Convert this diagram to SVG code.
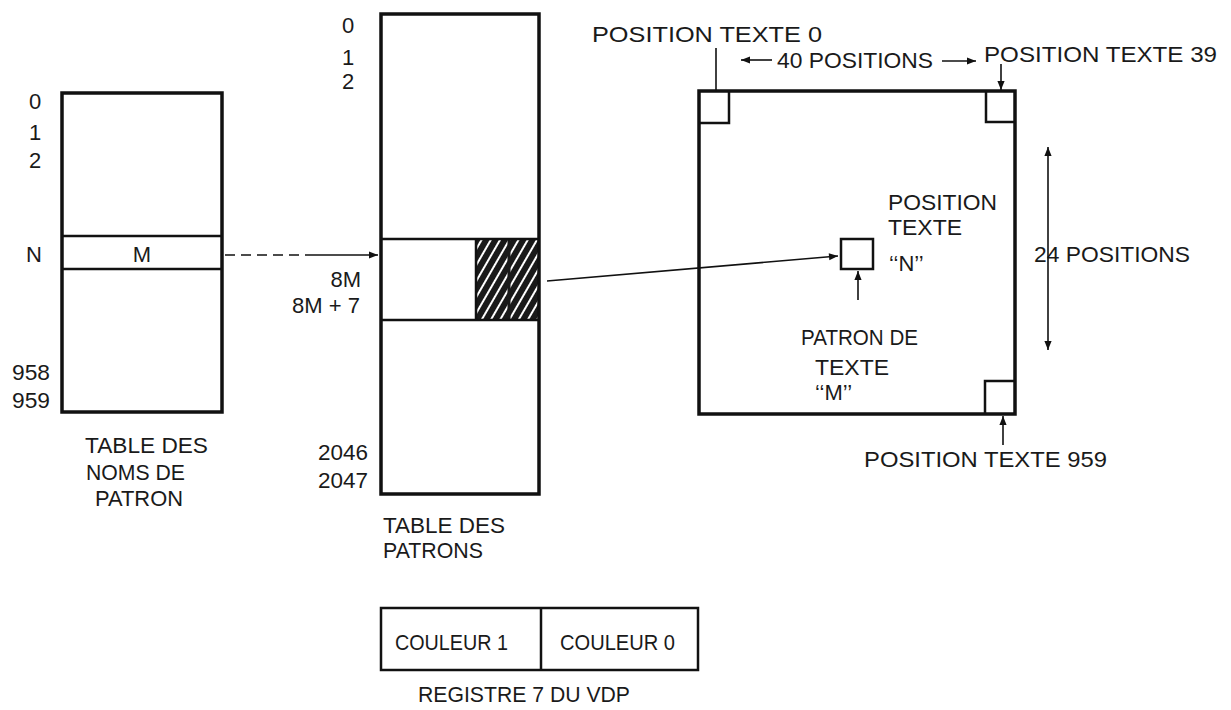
<svg xmlns="http://www.w3.org/2000/svg" width="1231" height="710" viewBox="0 0 1231 710">
<style>
.t{font-family:"Liberation Sans",Arial,sans-serif;font-size:22px;fill:#1a1a1a}
.box{fill:none;stroke:#111;stroke-width:3.5}
.thin{fill:none;stroke:#111;stroke-width:2.5}
.ln{fill:none;stroke:#111;stroke-width:1.6}
.e{text-anchor:end}
.m{text-anchor:middle}
</style>
<defs>
<pattern id="hatch" patternUnits="userSpaceOnUse" width="8" height="8" patternTransform="rotate(30)">
<rect width="8" height="8" fill="#1a1a1a"/>
<line x1="1" y1="0" x2="1" y2="8" stroke="#fff" stroke-width="2"/>
</pattern>
<marker id="ah" viewBox="0 0 10 10" refX="10" refY="5" markerWidth="14" markerHeight="9" markerUnits="userSpaceOnUse" orient="auto-start-reverse">
<path d="M0,1 L10,5 L0,9 z" fill="#111"/>
</marker>
</defs>
<rect width="1231" height="710" fill="#fff"/>

<g id="table-noms">
<rect class="box" x="62" y="93" width="160" height="319"/>
<line class="thin" x1="62" y1="236" x2="222" y2="236"/>
<line class="thin" x1="62" y1="269" x2="222" y2="269"/>
<text class="t m" x="142" y="262">M</text>
<text class="t" x="29" y="109">0</text>
<text class="t" x="29" y="140">1</text>
<text class="t" x="29" y="168">2</text>
<text class="t" x="26" y="262">N</text>
<text class="t" x="12" y="380" textLength="38" lengthAdjust="spacingAndGlyphs">958</text>
<text class="t" x="12" y="408" textLength="38" lengthAdjust="spacingAndGlyphs">959</text>
<text class="t" x="85" y="453" textLength="123" lengthAdjust="spacingAndGlyphs">TABLE DES</text>
<text class="t" x="86" y="480" textLength="99" lengthAdjust="spacingAndGlyphs">NOMS DE</text>
<text class="t" x="95" y="506" textLength="88" lengthAdjust="spacingAndGlyphs">PATRON</text>
</g>

<g id="table-patrons">
<rect x="476" y="239" width="63" height="81" fill="url(#hatch)"/>
<line x1="509" y1="239" x2="509" y2="320" stroke="#1a1a1a" stroke-width="3"/>
<rect class="box" x="381" y="14" width="158" height="480"/>
<line class="thin" x1="381" y1="239" x2="539" y2="239"/>
<line class="thin" x1="381" y1="320" x2="539" y2="320"/>
<line class="thin" x1="476" y1="239" x2="476" y2="320"/>
<text class="t" x="342" y="33">0</text>
<text class="t" x="342" y="65">1</text>
<text class="t" x="342" y="89">2</text>
<text class="t e" x="361" y="287">8M</text>
<text class="t" x="292" y="313" textLength="68" lengthAdjust="spacingAndGlyphs">8M + 7</text>
<text class="t" x="318" y="460" textLength="50" lengthAdjust="spacingAndGlyphs">2046</text>
<text class="t" x="318" y="488" textLength="50" lengthAdjust="spacingAndGlyphs">2047</text>
<text class="t" x="383" y="533" textLength="122" lengthAdjust="spacingAndGlyphs">TABLE DES</text>
<text class="t" x="383" y="558" textLength="100" lengthAdjust="spacingAndGlyphs">PATRONS</text>
</g>

<g id="ecran">
<rect class="box" x="699" y="91" width="316" height="323"/>
<path class="thin" d="M699,123 H729 V91"/>
<path class="thin" d="M986,91 V122 H1015"/>
<path class="thin" d="M985,414 V381 H1015"/>
<rect class="thin" x="841" y="239" width="32" height="30"/>
<text class="t" x="592" y="42" textLength="230" lengthAdjust="spacingAndGlyphs">POSITION TEXTE 0</text>
<text class="t" x="777" y="68" textLength="156" lengthAdjust="spacingAndGlyphs">40 POSITIONS</text>
<text class="t" x="984" y="62" textLength="233" lengthAdjust="spacingAndGlyphs">POSITION TEXTE 39</text>
<text class="t" x="1034" y="262" textLength="156" lengthAdjust="spacingAndGlyphs">24 POSITIONS</text>
<text class="t" x="888" y="210" textLength="109" lengthAdjust="spacingAndGlyphs">POSITION</text>
<text class="t" x="888" y="235" textLength="74" lengthAdjust="spacingAndGlyphs">TEXTE</text>
<text class="t" x="889" y="271">‘‘N’’</text>
<text class="t" x="801" y="345" textLength="117" lengthAdjust="spacingAndGlyphs">PATRON DE</text>
<text class="t" x="815" y="375" textLength="74" lengthAdjust="spacingAndGlyphs">TEXTE</text>
<text class="t" x="815" y="400">‘‘M’’</text>
<text class="t" x="864" y="467" textLength="243" lengthAdjust="spacingAndGlyphs">POSITION TEXTE 959</text>
</g>

<g id="registre">
<rect class="thin" x="381" y="608" width="317" height="62"/>
<line class="thin" x1="541" y1="608" x2="541" y2="670"/>
<text class="t" x="395" y="650" textLength="113" lengthAdjust="spacingAndGlyphs">COULEUR 1</text>
<text class="t" x="560" y="650" textLength="115" lengthAdjust="spacingAndGlyphs">COULEUR 0</text>
<text class="t" x="418" y="702" textLength="212" lengthAdjust="spacingAndGlyphs">REGISTRE 7 DU VDP</text>
</g>

<g id="connectors">
<line class="ln" x1="225" y1="255" x2="305" y2="255" stroke-dasharray="10,6" stroke="#777"/>
<line class="ln" x1="305" y1="255" x2="378" y2="255" marker-end="url(#ah)"/>
<line class="ln" x1="547" y1="281" x2="838" y2="256" marker-end="url(#ah)"/>
<line class="ln" x1="716" y1="48" x2="716" y2="92"/>
<line class="ln" x1="772" y1="60" x2="741" y2="60" marker-end="url(#ah)"/>
<line class="ln" x1="942" y1="61" x2="976" y2="61" marker-end="url(#ah)"/>
<line class="ln" x1="1001" y1="64" x2="1001" y2="90" marker-end="url(#ah)"/>
<line class="ln" x1="1048" y1="147" x2="1048" y2="350" marker-start="url(#ah)" marker-end="url(#ah)"/>
<line class="ln" x1="858" y1="300" x2="858" y2="271" marker-end="url(#ah)"/>
<line class="ln" x1="1003" y1="445" x2="1003" y2="416" marker-end="url(#ah)"/>
</g>
</svg>
